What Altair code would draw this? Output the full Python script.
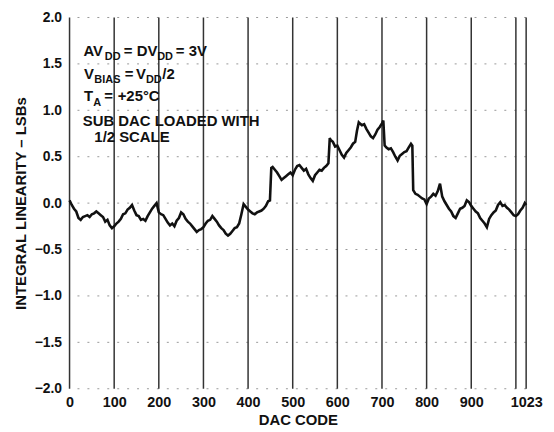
import altair as alt
import pandas as pd

# DAC code samples and measured integral linearity (LSBs)
codes = [0, 5, 10, 15, 20, 25, 30, 35, 40, 45, 50, 55, 60, 65, 70, 75, 80, 85, 90, 95,
         100, 105, 110, 115, 120, 125, 130, 135, 140, 145, 150, 155, 160, 165, 170, 175, 180, 185, 190, 195,
         200, 205, 210, 215, 220, 225, 230, 235, 240, 245, 250, 255, 260, 265, 270, 275, 280, 285, 290, 295,
         300, 305, 310, 315, 320, 325, 330, 335, 340, 345, 350, 355, 360, 365, 370, 375, 380, 385, 390, 395,
         400, 405, 410, 415, 420, 425, 430, 435, 440, 445, 449, 452, 455, 460, 465, 470, 475, 480, 485, 490, 495,
         500, 505, 510, 515, 520, 525, 530, 535, 540, 545, 550, 555, 560, 565, 570, 575, 580, 583, 585, 590, 595,
         600, 605, 610, 615, 620, 625, 630, 635, 640, 644, 648, 650, 655, 660, 665, 670, 675, 680, 685, 690, 695,
         700, 703, 706, 710, 715, 720, 725, 730, 735, 740, 745, 750, 755, 760, 765, 768, 770, 775, 780, 785, 790, 795,
         800, 805, 810, 815, 820, 825, 830, 835, 840, 845, 850, 855, 860, 865, 870, 875, 880, 885, 890, 895,
         900, 905, 910, 915, 920, 925, 930, 935, 940, 945, 950, 955, 960, 965, 970, 975, 980, 985, 990, 995,
         1000, 1005, 1010, 1015, 1020, 1023]
inl = [0.03, -0.02, -0.06, -0.09, -0.16, -0.18, -0.15, -0.14, -0.13, -0.15, -0.12, -0.11, -0.09, -0.11, -0.13, -0.15, -0.20, -0.18, -0.24, -0.27,
       -0.25, -0.22, -0.20, -0.17, -0.12, -0.11, -0.07, -0.05, -0.02, -0.08, -0.13, -0.14, -0.18, -0.17, -0.19, -0.14, -0.10, -0.06, -0.03, 0.00,
       -0.10, -0.12, -0.13, -0.17, -0.21, -0.24, -0.22, -0.25, -0.19, -0.16, -0.10, -0.12, -0.17, -0.20, -0.22, -0.25, -0.28, -0.31, -0.29, -0.28,
       -0.26, -0.22, -0.19, -0.18, -0.14, -0.17, -0.20, -0.24, -0.27, -0.29, -0.33, -0.35, -0.33, -0.30, -0.27, -0.26, -0.22, -0.12, -0.01, -0.04,
       -0.07, -0.09, -0.11, -0.12, -0.10, -0.09, -0.08, -0.06, -0.03, 0.02, 0.03, 0.38, 0.39, 0.36, 0.33, 0.29, 0.25, 0.27, 0.29, 0.31, 0.33,
       0.30, 0.36, 0.40, 0.41, 0.38, 0.35, 0.37, 0.31, 0.27, 0.24, 0.30, 0.33, 0.36, 0.35, 0.38, 0.40, 0.43, 0.70, 0.68, 0.66, 0.61,
       0.62, 0.57, 0.52, 0.49, 0.54, 0.57, 0.60, 0.64, 0.66, 0.78, 0.87, 0.86, 0.84, 0.85, 0.80, 0.76, 0.72, 0.70, 0.74, 0.79, 0.82,
       0.86, 0.89, 0.62, 0.60, 0.58, 0.59, 0.55, 0.50, 0.46, 0.51, 0.53, 0.55, 0.56, 0.60, 0.64, 0.62, 0.14, 0.10, 0.09, 0.07, 0.05, 0.04,
       -0.01, 0.05, 0.07, 0.10, 0.08, 0.13, 0.21, 0.07, 0.02, -0.02, -0.06, -0.09, -0.14, -0.16, -0.11, -0.06, -0.05, -0.03, 0.03, 0.01,
       -0.03, -0.06, -0.09, -0.11, -0.16, -0.19, -0.22, -0.26, -0.17, -0.13, -0.10, -0.08, -0.02, 0.01, -0.03, -0.02, -0.05, -0.07, -0.10, -0.13,
       -0.14, -0.12, -0.08, -0.05, 0.00, -0.02]

grid_codes = [0, 100, 200, 300, 400, 500, 600, 700, 800, 900, 1000, 1023]
x_labels = [0, 100, 200, 300, 400, 500, 600, 700, 800, 900, 1023]
y_ticks = [-2.0, -1.5, -1.0, -0.5, 0.0, 0.5, 1.0, 1.5, 2.0]

df = pd.DataFrame({"code": codes, "inl": inl})
vgrid = pd.DataFrame({"code": grid_codes, "top": [2.0] * len(grid_codes), "bot": [-2.0] * len(grid_codes)})
hgrid = pd.DataFrame({"v": y_ticks})

FONT = "Liberation Sans"
xscale = alt.Scale(domain=[0, 1023], nice=False, zero=False)
yscale = alt.Scale(domain=[-2, 2], nice=False)

xaxis = alt.Axis(values=x_labels, title="DAC CODE", grid=False, ticks=False, domain=False,
                 format="d", labelFont=FONT, labelFontWeight="bold", labelFontSize=14.5, labelColor="#111",
                 labelPadding=7, titleFont=FONT, titleFontWeight="bold", titleFontSize=15,
                 titleColor="#111", titlePadding=4, labelFlush=False, labelOverlap=False)
yaxis = alt.Axis(values=y_ticks, title="INTEGRAL LINEARITY – LSBs", grid=False, ticks=False, domain=False,
                 format=".1f", labelFont=FONT, labelFontWeight="bold", labelFontSize=14, labelColor="#111",
                 labelPadding=8, titleFont=FONT, titleFontWeight="bold", titleFontSize=15,
                 titleColor="#111", titlePadding=6, labelFlush=False)

hlines = alt.Chart(hgrid).mark_rule(color="#999", strokeWidth=1, strokeDash=[2, 8]).encode(
    y=alt.Y("v:Q", scale=yscale, axis=yaxis)
)

vlines = alt.Chart(vgrid).mark_rule(color="#333", strokeWidth=1.5).encode(
    x=alt.X("code:Q", scale=xscale, axis=xaxis),
    y=alt.Y("top:Q", scale=yscale),
    y2="bot:Q",
)

line = alt.Chart(df).mark_line(color="#111", strokeWidth=2.6, strokeJoin="miter").encode(
    x=alt.X("code:Q", scale=xscale),
    y=alt.Y("inl:Q", scale=yscale),
)

# annotation segments: text, x, y, size
ann_text = ["AV", "DD", "=", "DV", "DD", "=", "3V",
            "V", "BIAS", "=", "V", "DD", "/2",
            "T", "A", "=", "+25°C",
            "SUB DAC LOADED WITH", "1/2 SCALE"]
ann_x = [14.0, 35.5, 54.5, 67.7, 88.3, 107.0, 120.0,
         14.5, 25.0, 55.5, 67.0, 77.0, 93.5,
         14.5, 24.0, 35.0, 48.5,
         13.3, 25.0]
ann_y = [39.0, 43.0, 39.0, 39.0, 43.0, 39.0, 39.0,
         61.7, 65.7, 61.7, 61.7, 65.7, 61.7,
         84.0, 89.0, 84.0, 84.0,
         109.0, 125.7]
ann_size = [15, 11, 15, 15, 11, 15, 15,
            15, 11, 15, 15, 11, 15,
            15, 11, 15, 15,
            15, 15]

layers = []
for t, ax, ay, s in zip(ann_text, ann_x, ann_y, ann_size):
    layers.append(
        alt.Chart(pd.DataFrame({"t": [t]})).mark_text(
            align="left", baseline="alphabetic", font=FONT, fontWeight="bold",
            fontSize=s, color="#111"
        ).encode(x=alt.value(ax), y=alt.value(ay), text="t:N")
    )

chart = alt.layer(hlines, vlines, line, *layers).properties(
    width=460, height=374,
    autosize=alt.AutoSizeParams(type="none"),
    padding={"left": 62, "top": 8, "right": 20, "bottom": 40},
    background="white",
).configure_view(stroke=None)

chart.save("out.html", embed_options={"renderer": "svg", "actions": False})
